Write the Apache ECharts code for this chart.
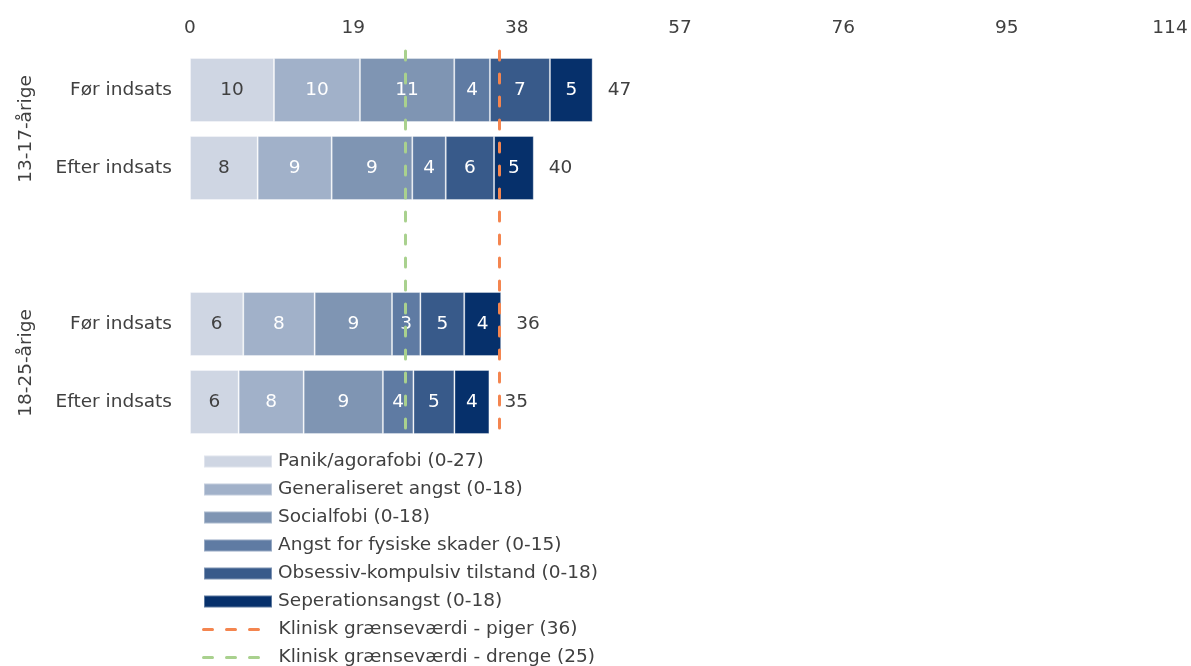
<!DOCTYPE html>
<html>
<head>
<meta charset="utf-8">
<script src="https://cdn.jsdelivr.net/npm/echarts@6/dist/echarts.min.js"></script>
<style>
  html, body { margin: 0; padding: 0; background: #ffffff; }
  #chart { width: 1191px; height: 666px; }
</style>
</head>
<body>
<div id="chart"></div>
<script>
// Rows of the chart (the empty row separates the two age groups)
const categories = ['Før indsats', 'Efter indsats', '', 'Før indsats', 'Efter indsats'];
const groups = [
  { name: '13-17-årige', rows: [0, 1] },
  { name: '18-25-årige', rows: [3, 4] }
];
const xTicks = { min: 0, max: 114, interval: 19 };

// Mean subscale scores per row
const panik          = [9.77, 7.87, '-', 6.2, 5.66];
const generaliseret  = [10.0, 8.61, '-', 8.3, 7.56];
const socialfobi     = [10.97, 9.38, '-', 9.0, 9.22];
const fysiskeSkader  = [4.15, 3.89, '-', 3.3, 3.55];
const obsessiv       = [6.98, 5.62, '-', 5.1, 4.77];
const seperation     = [4.97, 4.62, '-', 4.3, 4.07];

// Clinical cut-offs
const graensePiger = 36;
const graenseDrenge = 25;

const subscales = [
  { name: 'Panik/agorafobi (0-27)', data: panik, color: '#cfd6e3', label: '#404040' },
  { name: 'Generaliseret angst (0-18)', data: generaliseret, color: '#a1b1c9', label: '#ffffff' },
  { name: 'Socialfobi (0-18)', data: socialfobi, color: '#7f95b3', label: '#ffffff' },
  { name: 'Angst for fysiske skader (0-15)', data: fysiskeSkader, color: '#5f7ba3', label: '#ffffff' },
  { name: 'Obsessiv-kompulsiv tilstand (0-18)', data: obsessiv, color: '#385a8a', label: '#ffffff' },
  { name: 'Seperationsangst (0-18)', data: seperation, color: '#06306b', label: '#ffffff' }
];

const totals = categories.map((c, i) => {
  if (panik[i] === '-') return '-';
  return subscales.reduce((s, sc) => s + sc.data[i], 0);
});

const FONT = 'DejaVu Sans';
const FS = 18.5;
const TEXT = '#404040';

const series = subscales.map(sc => ({
  name: sc.name,
  type: 'bar',
  stack: 'score',
  barWidth: '82%',
  data: sc.data,
  itemStyle: { color: sc.color, borderColor: 'rgba(255,255,255,0.35)', borderWidth: 1 },
  label: {
    show: true,
    position: 'inside',
    color: sc.label,
    fontFamily: FONT,
    fontSize: FS,
    formatter: p => Math.round(p.value)
  },
  emphasis: { disabled: true },
  z: 2
}));

// Totals printed at the end of each stacked bar
series.push({
  name: 'Total',
  type: 'bar',
  barWidth: '82%',
  barGap: '-100%',
  data: totals,
  itemStyle: { color: 'rgba(0,0,0,0)' },
  label: {
    show: true,
    position: 'right',
    distance: 15,
    color: TEXT,
    fontFamily: FONT,
    fontSize: FS,
    formatter: p => Math.round(p.value)
  },
  emphasis: { disabled: true },
  silent: true,
  z: 1
});

function cutoffSeries(name, value, color) {
  const dash = { color: color, width: 3, type: [9, 14], cap: 'round' };
  return {
    name: name,
    type: 'line',
    data: [],
    symbol: 'none',
    lineStyle: dash,
    itemStyle: { color: color },
    markLine: {
      silent: true,
      symbol: ['none', 'none'],
      label: { show: false },
      lineStyle: dash,
      emphasis: { disabled: true },
      data: [{ xAxis: value }]
    },
    z: 5
  };
}
const piger = 'Klinisk grænseværdi - piger (' + graensePiger + ')';
const drenge = 'Klinisk grænseværdi - drenge (' + graenseDrenge + ')';
series.push(cutoffSeries(piger, graensePiger, '#f4854f'));
series.push(cutoffSeries(drenge, graenseDrenge, '#a9d18e'));

const legendBase = {
  orient: 'vertical',
  left: 203,
  padding: 0,
  itemWidth: 68,
  itemHeight: 12,
  itemGap: 9,
  textStyle: { color: TEXT, fontFamily: FONT, fontSize: FS, padding: [0, 0, 0, 1] },
  selectedMode: false
};

const chart = echarts.init(document.getElementById('chart'), null, { renderer: 'canvas' });

const option = {
  animation: false,
  backgroundColor: '#ffffff',
  grid: { left: 190, right: 21, top: 51, bottom: 225, containLabel: false },
  xAxis: {
    type: 'value',
    position: 'top',
    min: xTicks.min,
    max: xTicks.max,
    interval: xTicks.interval,
    axisLine: { show: false },
    axisTick: { show: false },
    splitLine: { show: false },
    axisLabel: { color: TEXT, fontFamily: FONT, fontSize: FS, margin: 13 }
  },
  yAxis: {
    type: 'category',
    inverse: true,
    data: categories,
    axisLine: { show: false },
    axisTick: { show: false },
    axisLabel: { color: TEXT, fontFamily: FONT, fontSize: FS, margin: 18 }
  },
  legend: [
    Object.assign({}, legendBase, {
      top: 452,
      data: subscales.map(s => ({ name: s.name, icon: 'rect' }))
    }),
    Object.assign({}, legendBase, {
      top: 620,
      left: 202,
      itemWidth: 60,
      data: [{ name: piger, itemStyle: { opacity: 0 } }]
    }),
    Object.assign({}, legendBase, {
      top: 648,
      left: 202,
      itemWidth: 60,
      data: [{ name: drenge, itemStyle: { opacity: 0 } }]
    })
  ].map((l, i) => i === 0 ? l : Object.assign(l, {
    lineStyle: { width: 3, cap: 'round' },
    textStyle: Object.assign({}, legendBase.textStyle, { padding: [0, 0, 0, 10] })
  })),
  series: series
};

chart.setOption(option);

// Age-group titles, centred on their two rows
const groupGraphics = groups.map(g => {
  const y0 = chart.convertToPixel({ yAxisIndex: 0 }, g.rows[0]);
  const y1 = chart.convertToPixel({ yAxisIndex: 0 }, g.rows[1]);
  return {
    type: 'text',
    x: 26,
    y: (y0 + y1) / 2,
    rotation: Math.PI / 2,
    style: {
      text: g.name,
      fill: TEXT,
      font: FS + 'px "' + FONT + '"',
      align: 'center',
      verticalAlign: 'middle'
    }
  };
});
chart.setOption({ graphic: groupGraphics });
</script>
</body>
</html>
